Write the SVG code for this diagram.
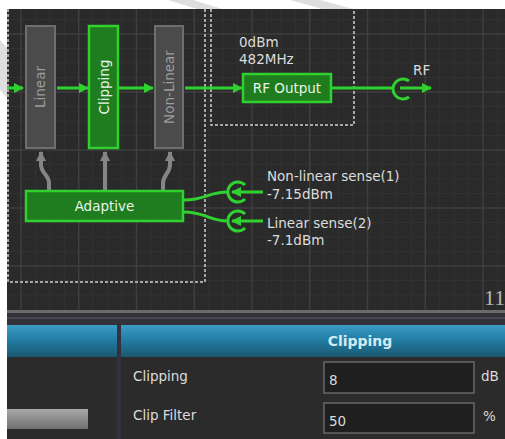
<svg xmlns="http://www.w3.org/2000/svg" width="505" height="439" viewBox="0 0 505 439">
<defs>
<style>
.lbl{font-family:"DejaVu Sans",Verdana,sans-serif;font-size:13.5px;fill:#dcdcdc}
.gtx{font-family:"DejaVu Sans",Verdana,sans-serif;font-size:13.5px;fill:#9c9c9c}
.wtx{font-family:"DejaVu Sans",Verdana,sans-serif;font-size:13.5px;fill:#e8f5e8}
.gbox{fill:#4b4b4b;stroke:#6e6e6e;stroke-width:2}
.grn{fill:#1f7d1f;stroke:#2fd02f;stroke-width:2.5}
.gl{fill:none;stroke:#2fd02f;stroke-width:3}
.gy{fill:none;stroke:#858585;stroke-width:4}
.dash{fill:none;stroke:#cfcfcf;stroke-width:1.5;stroke-dasharray:3 2}
.maj{stroke:#3e3e3e;stroke-width:1.5}
.min{stroke:#313131;stroke-width:1}
.inp{fill:#1f1f1f;stroke:#686868;stroke-width:1.5}
</style>
<marker id="ga" viewBox="0 0 10 10" refX="9" refY="5" markerWidth="10" markerHeight="10" markerUnits="userSpaceOnUse" orient="auto"><path d="M0,0 L10,5 L0,10 z" fill="#2fd02f"/></marker>
<marker id="gr" viewBox="0 0 10 10" refX="9" refY="5" markerWidth="10" markerHeight="10" markerUnits="userSpaceOnUse" orient="auto"><path d="M0,0 L10,5 L0,10 z" fill="#858585"/></marker>
<linearGradient id="hdr" x1="0" y1="0" x2="0" y2="1"><stop offset="0" stop-color="#3a9cc6"/><stop offset="0.5" stop-color="#227aa0"/><stop offset="1" stop-color="#1b5870"/></linearGradient>
<linearGradient id="bar" x1="0" y1="0" x2="0" y2="1"><stop offset="0" stop-color="#a8a8a8"/><stop offset="1" stop-color="#707070"/></linearGradient>
</defs>
<rect x="0" y="0" width="505" height="439" fill="#ffffff"/>
<g id="watermark" fill="#dedede">
<polygon points="168,0 193,0 222,9 197,9"/>
<polygon points="290,0 320,0 353,9 322,9"/>
<polygon points="0,40 7,48 7,98 0,90"/>
</g>
<rect x="7" y="9" width="498" height="430" fill="#2a2a2a"/>
<g id="grid">
<g class="min">
<path d="M35.5 9V310M50 9V310M64.3 9V310M93 9V310M107.6 9V310M122 9V310M151 9V310M165.4 9V310M180 9V310M208.7 9V310M223 9V310M237.6 9V310M266.4 9V310M281 9V310M295.3 9V310M324 9V310M338.6 9V310M353 9V310M382 9V310M396.4 9V310M411 9V310M439.7 9V310M454 9V310M468.6 9V310M497.5 9V310"/>
<path d="M7 19.5H505M7 48.5H505M7 63H505M7 77.5H505M7 106.5H505M7 121H505M7 135.5H505M7 164.5H505M7 179H505M7 193.5H505M7 222.5H505M7 237H505M7 251.5H505M7 280.5H505M7 295H505"/>
</g>
<g class="maj">
<path d="M21 9V310M78.75 9V310M136.5 9V310M194.25 9V310M252 9V310M309.75 9V310M367.5 9V310M425.25 9V310M483 9V310"/>
<path d="M7 34H505M7 92H505M7 150H505M7 208H505M7 266H505"/>
</g>
</g>
<g id="groups">
<path class="dash" d="M8 9V282H205V9"/>
<path class="dash" d="M211 9V125H354V9"/>
</g>
<g id="connectors">
<path class="gl" d="M7 88H23" marker-end="url(#ga)"/>
<path class="gl" d="M57 88H88" marker-end="url(#ga)"/>
<path class="gl" d="M119 88H153" marker-end="url(#ga)"/>
<path class="gl" d="M185 88H242" marker-end="url(#ga)"/>
<path class="gl" d="M332 88H392"/>
<path class="gl" d="M409 81A10 10 0 1 0 409 97"/>
<path class="gl" d="M400 88H431" marker-end="url(#ga)"/>
<path class="gy" d="M49 191V183C49 175 41 173 41 165V152" marker-end="url(#gr)"/>
<path class="gy" d="M105 191V152" marker-end="url(#gr)"/>
<path class="gy" d="M163 191V183C163 175 170 173 170 165V152" marker-end="url(#gr)"/>
<path class="gl" d="M184 200C206 200 208 192 228 192"/>
<path class="gl" d="M184 212C206 212 208 221 228 221"/>
<path class="gl" d="M245 185A10 10 0 1 0 245 199"/>
<path class="gl" d="M245 214A10 10 0 1 0 245 228"/>
<path class="gl" d="M263 192H232" marker-end="url(#ga)"/>
<path class="gl" d="M263 221H232" marker-end="url(#ga)"/>
</g>
<g id="node-linear">
<rect class="gbox" x="26" y="26" width="29" height="122"/>
<text class="gtx" transform="translate(45,87) rotate(-90)" text-anchor="middle">Linear</text>
</g>
<g id="node-clipping">
<rect class="grn" x="89" y="26" width="29" height="122"/>
<text class="wtx" transform="translate(108.5,87) rotate(-90)" text-anchor="middle">Clipping</text>
</g>
<g id="node-nonlinear">
<rect class="gbox" x="155" y="26" width="28" height="122"/>
<text class="gtx" transform="translate(174,87) rotate(-90)" text-anchor="middle">Non-Linear</text>
</g>
<g id="node-rfoutput">
<text class="lbl" x="239" y="47">0dBm</text>
<text class="lbl" x="239" y="64">482MHz</text>
<rect class="grn" x="243" y="74" width="88" height="28"/>
<text class="wtx" x="287" y="93" text-anchor="middle" font-size="14.5">RF Output</text>
</g>
<g id="node-rf">
<text class="lbl" x="413" y="75">RF</text>
</g>
<g id="node-adaptive">
<rect class="grn" x="26" y="191" width="157" height="30"/>
<text class="wtx" x="104.5" y="211" text-anchor="middle">Adaptive</text>
</g>
<g id="node-sense1">
<text class="lbl" x="267" y="181">Non-linear sense(1)</text>
<text class="lbl" x="267" y="199">-7.15dBm</text>
</g>
<g id="node-sense2">
<text class="lbl" x="267" y="228">Linear sense(2)</text>
<text class="lbl" x="267" y="245">-7.1dBm</text>
</g>
<text x="484" y="305" font-family="Liberation Serif,serif" font-size="22" fill="#b8b8b8">11</text>
<g id="panel">
<rect x="7" y="310" width="498" height="129" fill="#2b2b2b"/>
<rect x="7" y="310" width="498" height="3" fill="#6a6a6a"/>
<rect x="7" y="313" width="498" height="12" fill="#333238"/>
<rect x="7" y="317" width="498" height="2" fill="#4a4656"/>
<rect x="7" y="325" width="498" height="32" fill="url(#hdr)"/>
<rect x="117" y="325" width="4" height="114" fill="#34323c"/>
<text x="360" y="346" text-anchor="middle" font-family="DejaVu Sans,Verdana,sans-serif" font-size="14" font-weight="bold" fill="#d2ecf6">Clipping</text>
<text class="lbl" x="133" y="381" font-size="13.5">Clipping</text>
<text class="lbl" x="133" y="420" font-size="13.5">Clip Filter</text>
<rect class="inp" x="324" y="362" width="150" height="31"/>
<rect class="inp" x="324" y="403" width="150" height="30"/>
<text class="lbl" x="329" y="385" font-size="15">8</text>
<text class="lbl" x="329" y="426" font-size="15">50</text>
<text class="lbl" x="481" y="381">dB</text>
<text class="lbl" x="483" y="421">%</text>
<rect x="7" y="409" width="81" height="20" fill="url(#bar)"/>
</g>
</svg>
